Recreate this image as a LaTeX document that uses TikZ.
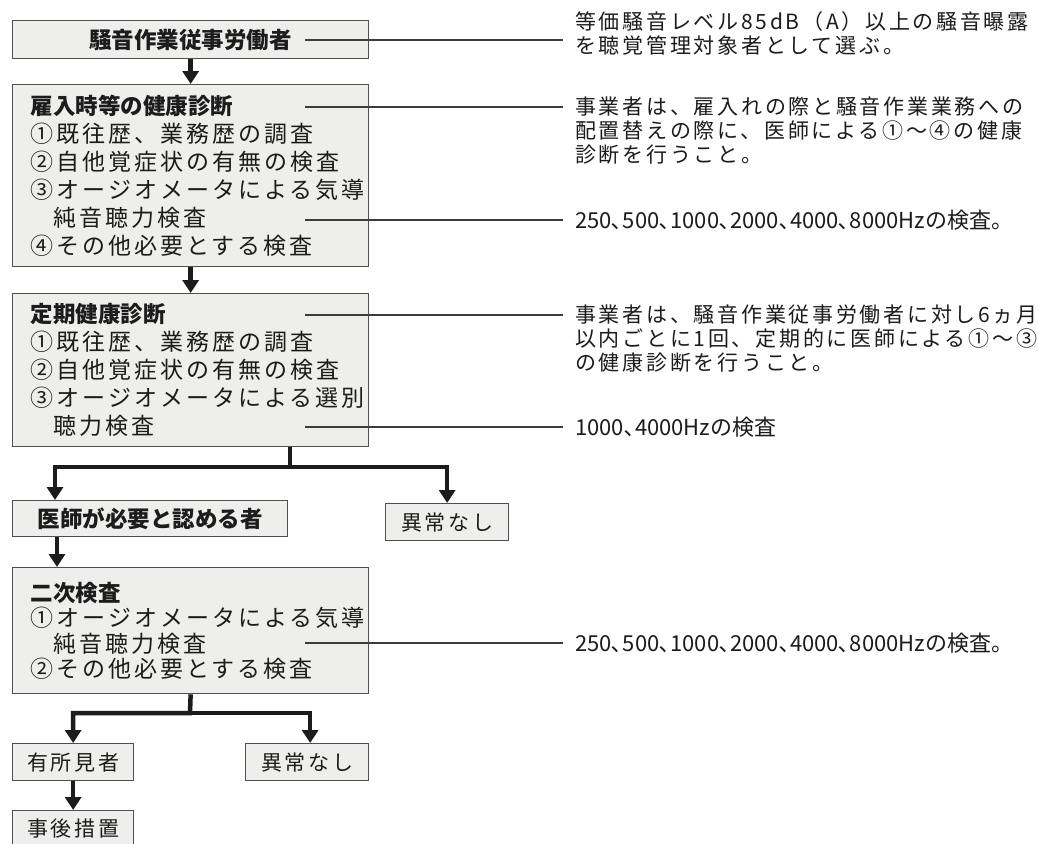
\documentclass[tikz,border=0pt]{standalone}
\usepackage{fontspec}
\usepackage{xcolor}
\setmainfont{Noto Sans CJK JP}
\newfontfamily\jpwide[LetterSpace=13]{Noto Sans CJK JP}
\newfontfamily\jpnote[LetterSpace=13]{Noto Sans CJK JP}
\usetikzlibrary{arrows.meta, positioning}

\definecolor{boxfill}{RGB}{238,238,236}
\definecolor{boxline}{RGB}{80,80,80}
\definecolor{ink}{RGB}{28,28,28}
\definecolor{leadgray}{RGB}{60,60,60}

\newcommand{\steptitle}[1]{{\normalfont\bfseries\fontsize{22.5}{28}\selectfont #1}}

\begin{document}
\begin{tikzpicture}[
    x=1pt, y=-1pt,
    box/.style={draw=boxline, fill=boxfill, line width=1.3pt, inner sep=0pt, text=ink, anchor=north west},
    stage/.style={box, minimum width=356pt, text width=320pt, inner xsep=18pt, align=left, font=\jpwide\fontsize{23}{28}\selectfont},
    head/.style={box, minimum height=37pt, font=\bfseries\fontsize{22.5}{28}\selectfont},
    tag/.style={box, minimum height=37pt, font=\jpnote\fontsize{21}{24}\selectfont},
    note/.style={anchor=west, inner xsep=12pt, inner ysep=0pt, align=left, text=ink, font=\jpnote\fontsize{21}{24}\selectfont},
    plain/.style={font=\fontsize{22}{24}\selectfont},
    flow/.style={-{Triangle[width=16pt,length=13pt]}, line width=4.5pt, draw=ink},
    lead/.style={draw=leadgray, line width=1.8pt}
]
\path[use as bounding box, fill=white] (0,0) rectangle (1038,843);

% left column - boxes
\node[head, minimum width=356pt, minimum height=38pt] (worker) at (12,20) {騒音作業従事労働者};
\node[stage, minimum height=182pt] (hire) at (12,84) {\steptitle{雇入時等の健康診断}\\
①既往歴、業務歴の調査\\
②自他覚症状の有無の検査\\
③オージオメータによる気導\\
\hspace*{1em}純音聴力検査\\
④その他必要とする検査};
\node[stage, minimum height=153pt] (regular) at (12,293) {\steptitle{定期健康診断}\\
①既往歴、業務歴の調査\\
②自他覚症状の有無の検査\\
③オージオメータによる選別\\
\hspace*{1em}聴力検査};
\node[head, minimum width=275pt, minimum height=36pt] (need) at (12,500) {医師が必要と認める者};
\node[tag, minimum width=123pt] (ok1) at (385,503) {異常なし};
\node[stage, minimum height=126pt, font=\jpwide\fontsize{23}{25.5}\selectfont] (second) at (12,567) {\steptitle{二次検査}\\
①オージオメータによる気導\\
\hspace*{1em}純音聴力検査\\
②その他必要とする検査};
\node[tag, minimum width=121pt] (found) at (12,743) {有所見者};
\node[tag, minimum width=123pt] (ok2) at (245,743) {異常なし};
\node[tag, minimum width=121pt, minimum height=36pt] (after) at (12,810) {事後措置};

% right column - notes
\node[note] (n1) at (563,33) {等価騒音レベル85dB（A）以上の騒音曝露\\を聴覚管理対象者として選ぶ。};
\node[note] (n2) at (563,131) {事業者は、雇入れの際と騒音作業業務への\\配置替えの際に、医師による①～④の健康\\診断を行うこと。};
\node[note, plain] (n3) at (563,220) {250､500､1000､2000､4000､8000Hzの検査。};
\node[note] (n4) at (563,339) {事業者は、騒音作業従事労働者に対し6ヵ月\\以内ごとに1回、定期的に医師による①～③\\の健康診断を行うこと。};
\node[note, plain] (n5) at (563,427) {1000､4000Hzの検査};
\node[note, plain] (n6) at (563,643) {250､500､1000､2000､4000､8000Hzの検査。};

% lead lines
\coordinate (w1) at (305,40);
\coordinate (h1) at (305,107);
\coordinate (h2) at (305,220);
\coordinate (r1) at (305,315);
\coordinate (r2) at (305,427);
\coordinate (s1) at (305,643);
\draw[lead] (w1) -- (w1 -| n1.west);
\draw[lead] (h1) -- (h1 -| n2.west);
\draw[lead] (h2) -- (h2 -| n3.west);
\draw[lead] (r1) -- (r1 -| n4.west);
\draw[lead] (r2) -- (r2 -| n5.west);
\draw[lead] (s1) -- (s1 -| n6.west);

% arrows
\coordinate (fork1) at (290,467);
\coordinate (fork2) at (190,713);
\draw[flow] (worker.south) -- (hire.north);
\draw[flow] (hire.south) -- (regular.north);
\draw[flow] (fork1 |- regular.south) -- (fork1) -| ([xshift=43pt]need.north west);
\draw[flow] (fork1) -| (ok1.north);
\draw[flow] ([xshift=45pt]need.south west) -- ([xshift=45pt]need.south west |- second.north);
\draw[flow] (second.south) -- (fork2) -| (found.north);
\draw[flow] (fork2) -| ([xshift=3pt]ok2.north);
\draw[flow] (found.south) -- (after.north);

\end{tikzpicture}
\end{document}
